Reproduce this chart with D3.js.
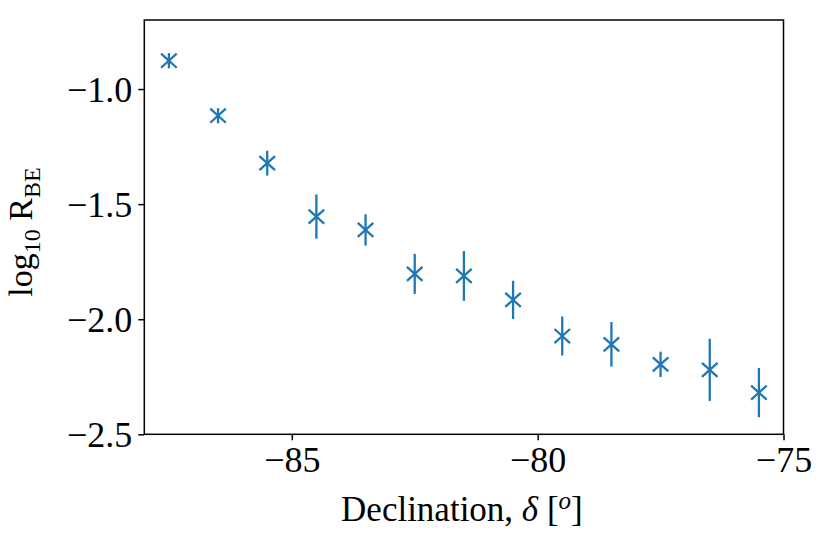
<!DOCTYPE html>
<html>
<head>
<meta charset="utf-8">
<script src="https://cdn.jsdelivr.net/npm/d3@7"></script>
<style>
  body { margin: 0; background: #fff; }
  text { font-family: "Liberation Serif", "DejaVu Serif", serif; fill: #000; }
</style>
</head>
<body>
<div id="chart"></div>
<script>
// declination bin centres (degrees)
const declination = [-87.5, -86.5, -85.5, -84.5, -83.5, -82.5, -81.5, -80.5, -79.5, -78.5, -77.5, -76.5, -75.5];
// log10 R_BE per bin
const logR = [-0.877, -1.116, -1.322, -1.554, -1.612, -1.803, -1.812, -1.916, -2.073, -2.109, -2.196, -2.220, -2.319];
// symmetric errors
const logRErr = [0.033, 0.033, 0.054, 0.096, 0.068, 0.087, 0.108, 0.083, 0.085, 0.097, 0.055, 0.135, 0.107];

const xTicks = [-85, -80, -75];
const yTicks = [-1.0, -1.5, -2.0, -2.5];

const svgWidth = 830, svgHeight = 542;
const margin = {top: 20, right: 46.5, bottom: 107.7, left: 144.3};
const width = svgWidth - margin.left - margin.right;
const height = svgHeight - margin.top - margin.bottom;
const color = "#1f77b4";

const svg = d3.select("#chart").append("svg")
    .attr("width", svgWidth)
    .attr("height", svgHeight);

const g = svg.append("g")
    .attr("transform", "translate(" + margin.left + "," + margin.top + ")");

const x = d3.scaleLinear().domain([-88, -75]).range([0, width]);
const y = d3.scaleLinear().domain([-2.5, -0.7]).range([height, 0]);

const data = declination.map((d, i) => ({dec: d, v: logR[i], e: logRErr[i]}));

// error bars
g.selectAll(".err")
    .data(data)
    .enter().append("line")
    .attr("class", "err")
    .attr("x1", d => x(d.dec))
    .attr("x2", d => x(d.dec))
    .attr("y1", d => y(d.v - d.e))
    .attr("y2", d => y(d.v + d.e))
    .attr("stroke", color)
    .attr("stroke-width", 2.3);

// x markers
const ms = 7.8;
g.selectAll(".mark")
    .data(data)
    .enter().append("path")
    .attr("class", "mark")
    .attr("d", d => {
        const cx = x(d.dec), cy = y(d.v);
        return "M" + (cx - ms) + "," + (cy - ms * 0.9) + "L" + (cx + ms) + "," + (cy + ms * 0.9) +
               "M" + (cx - ms) + "," + (cy + ms * 0.9) + "L" + (cx + ms) + "," + (cy - ms * 0.9);
    })
    .attr("stroke", color)
    .attr("stroke-width", 2.3)
    .attr("fill", "none");

// axes
const xAxis = d3.axisBottom(x).tickValues(xTicks).tickSize(6).tickPadding(5)
    .tickFormat(d => "\u2212" + Math.abs(d));
const yAxis = d3.axisLeft(y).tickValues(yTicks).tickSize(6).tickPadding(6)
    .tickFormat(d => "\u2212" + Math.abs(d).toFixed(1));

const gx = g.append("g")
    .attr("transform", "translate(0," + height + ")")
    .call(xAxis);
const gy = g.append("g").call(yAxis);

[gx, gy].forEach(a => {
    a.select(".domain").remove();
    a.selectAll("line").attr("stroke", "#000").attr("stroke-width", 1.5);
    a.selectAll("text").style("font-size", "36px").attr("fill", "#000");
});
gx.selectAll("text").attr("dy", "0.75em");
gy.selectAll("text").attr("dy", "0.35em");

// frame
g.append("rect")
    .attr("x", 0).attr("y", 0)
    .attr("width", width).attr("height", height)
    .attr("fill", "none")
    .attr("stroke", "#000")
    .attr("stroke-width", 1.5);

// x label
const xl = svg.append("text")
    .attr("x", margin.left + width / 2 - 2)
    .attr("y", 521)
    .attr("text-anchor", "middle")
    .style("font-size", "35px");
xl.append("tspan").text("Declination, ");
xl.append("tspan").attr("font-style", "italic").text("\u03b4");
xl.append("tspan").text(" [");
xl.append("tspan").attr("font-style", "italic").attr("dy", -12).style("font-size", "25px").text("o");
xl.append("tspan").attr("dy", 12).text("]");

// y label
const yl = svg.append("text")
    .attr("transform", "translate(32," + 232 + ") rotate(-90)")
    .attr("text-anchor", "middle")
    .style("font-size", "34px");
yl.append("tspan").text("log");
yl.append("tspan").attr("dy", 8).style("font-size", "24px").text("10");
yl.append("tspan").attr("dy", -8).text(" R");
yl.append("tspan").attr("dy", 8).style("font-size", "24px").text("BE");
</script>
</body>
</html>
